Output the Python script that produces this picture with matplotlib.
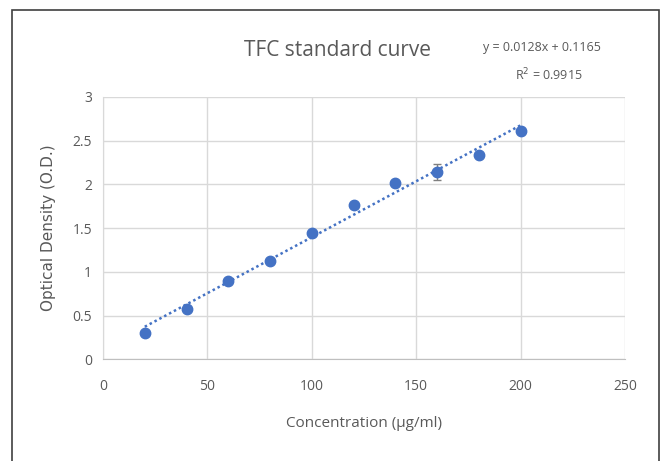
import numpy as np
import matplotlib.pyplot as plt
from matplotlib.patches import Rectangle

plt.rcParams['font.family'] = ['Open Sans', 'DejaVu Sans']

# data
conc = [20, 40, 60, 80, 100, 120, 140, 160, 180, 200]
od = [0.30, 0.58, 0.89, 1.12, 1.45, 1.76, 2.02, 2.14, 2.34, 2.61]
od_err = [0.01, 0.01, 0.01, 0.01, 0.01, 0.01, 0.01, 0.09, 0.01, 0.01]
slope, intercept = 0.0128, 0.1165
x_ticks = [0, 50, 100, 150, 200, 250]
y_ticks = [0, 0.5, 1, 1.5, 2, 2.5, 3]

blue = '#4472C4'
grey = '#595959'

fig = plt.figure(figsize=(6.63, 4.61), dpi=100)
# outer frame of the chart area
fig.patches.append(Rectangle((12 / 663, -0.05), 647 / 663, 1.05 - 10 / 461,
                             transform=fig.transFigure, fill=False,
                             edgecolor='#404040', linewidth=1.2))

ax = fig.add_axes([0.1554, 0.2206, 0.7873, 0.569])

ax.errorbar(conc, od, yerr=od_err, fmt='o', color=blue, ecolor='#7f7f7f',
            markersize=7.5, capsize=3, elinewidth=1, zorder=3)
xs = np.array([conc[0], conc[-1]])
ax.plot(xs, slope * xs + intercept, linestyle=(0, (1, 1.2)), color=blue,
        linewidth=1.8, zorder=2)

ax.set_xlim(0, 250)
ax.set_ylim(0, 3)
ax.set_xticks(x_ticks)
ax.set_yticks(y_ticks)
ax.set_yticklabels(['0', '0.5', '1', '1.5', '2', '2.5', '3'])
ax.grid(True, color='#d9d9d9', linewidth=1)
ax.set_axisbelow(True)
for s in ['top', 'right']:
    ax.spines[s].set_visible(False)
ax.spines['left'].set_color('#d9d9d9')
ax.spines['bottom'].set_color('#bfbfbf')
ax.tick_params(length=0, colors=grey, labelsize=10)
ax.tick_params(axis='x', pad=14)
ax.tick_params(axis='y', pad=8)

ax.set_xlabel('Concentration (µg/ml)', fontsize=11, color=grey, labelpad=16)
ax.set_ylabel('Optical Density (O.D.)', fontsize=11, color=grey, labelpad=12,
              family=['DejaVu Sans'])

fig.text(338 / 663, 1 - 50 / 461, 'TFC standard curve', fontsize=15,
         color=grey, ha='center', va='center')
fig.text(542 / 663, 1 - 47 / 461, 'y = 0.0128x + 0.1165', fontsize=9,
         color=grey, ha='center', va='center')
fig.text(549 / 663, 1 - 75 / 461, 'R$^2$ = 0.9915', fontsize=9,
         color=grey, ha='center', va='center')

fig.savefig('out.png', dpi=100)
